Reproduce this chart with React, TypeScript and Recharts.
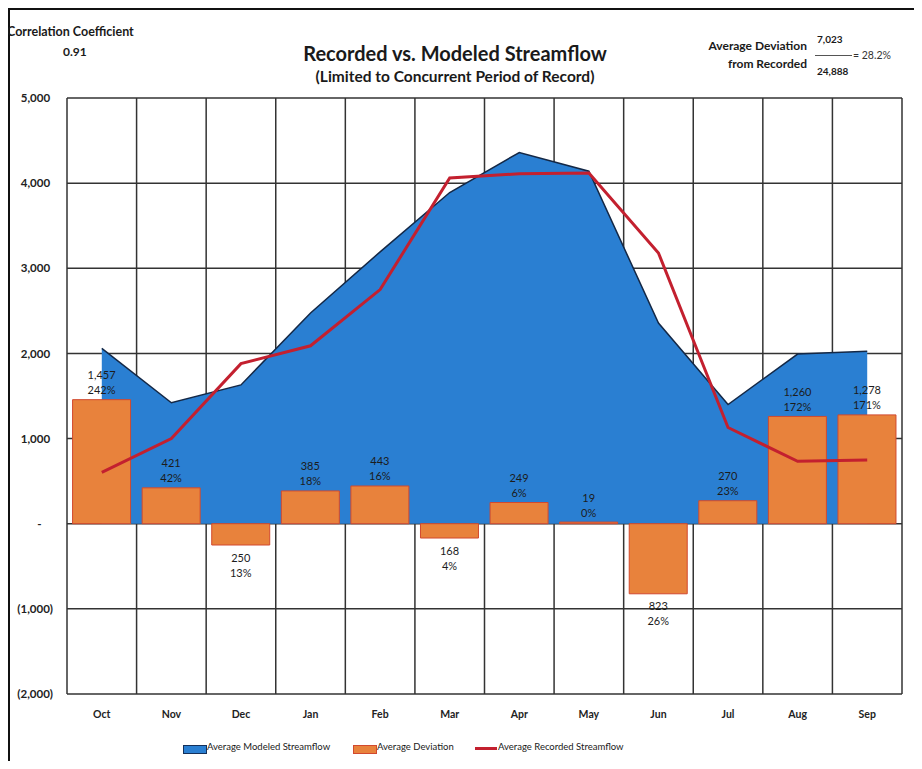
import { ComposedChart, Area, Bar, Line, XAxis, YAxis, CartesianGrid, LabelList } from 'recharts';

const MONTHS = ['Oct', 'Nov', 'Dec', 'Jan', 'Feb', 'Mar', 'Apr', 'May', 'Jun', 'Jul', 'Aug', 'Sep'];
const MODELED = [2059, 1421, 1630, 2475, 3193, 3890, 4360, 4140, 2357, 1400, 1993, 2025];
const RECORDED = [602, 1000, 1880, 2090, 2750, 4060, 4110, 4120, 3180, 1130, 733, 747];
const DEVIATION = [1457, 421, -250, 385, 443, -168, 249, 19, -823, 270, 1260, 1278];
const DEVIATION_PCT = ['242%', '42%', '13%', '18%', '16%', '4%', '6%', '0%', '26%', '23%', '172%', '171%'];
const Y_TICKS = [-2000, -1000, 0, 1000, 2000, 3000, 4000, 5000];

const data = MONTHS.map((m, i) => ({
    month: m,
    modeled: MODELED[i],
    recorded: RECORDED[i],
    deviation: DEVIATION[i],
}));

const FONT = 'Lato, "Open Sans", sans-serif';
const BLUE = '#2a7fd2';
const ORANGE = '#e8823c';
const RED = '#c3202f';

// accounting style: (1,000) for negatives, dash for zero, padded positives
const fmtY = (v: number) => {
    if (v === 0) return '-\u2002\u2002';
    const s = Math.abs(v).toLocaleString('en-US');
    return v < 0 ? `(${s})` : `${s}\u2005`;
};

const DevLabel = (props: any) => {
    const { x, y, width, height, index } = props;
    const v = DEVIATION[index];
    const cx = x + width / 2;
    const top = Math.min(y, y + height);
    const bottom = Math.max(y, y + height);
    const y1 = v >= 0 ? top - 25 : bottom + 12;
    const y2 = v >= 0 ? top - 10 : bottom + 27;
    const style = { fontFamily: FONT, fontSize: 11, fill: '#1c1c1c' };
    return (
        <g>
            <text x={cx} y={y1} textAnchor="middle" dominantBaseline="central" style={style}>
                {Math.abs(v).toLocaleString('en-US')}
            </text>
            <text x={cx} y={y2} textAnchor="middle" dominantBaseline="central" style={style}>
                {DEVIATION_PCT[index]}
            </text>
        </g>
    );
};

const abs = (left: number, top: number, extra: any = {}) => ({
    position: 'absolute' as const,
    left,
    top,
    whiteSpace: 'nowrap' as const,
    ...extra,
});

export default function App() {
    return (
        <div style={{ position: 'relative', width: 906, height: 753, fontFamily: FONT, color: '#1a1a1a' }}>
            {/* page frame */}
            <div style={abs(0, 0, { width: 914, height: 1.5, background: '#111' })} />
            <div style={abs(0, 0, { width: 1.5, height: 761, background: '#111' })} />

            <ComposedChart
                width={906}
                height={753}
                data={data}
                margin={{ top: 90, right: 12, bottom: 37, left: 9 }}
                barCategoryGap="8%"
                style={{ position: 'absolute', left: 0, top: 0 }}
            >
                <CartesianGrid
                    stroke="#333"
                    strokeWidth={1.5}
                    verticalCoordinatesGenerator={({ offset }: any) =>
                        MONTHS.concat(['']).map((_, i) => offset.left + (i * offset.width) / MONTHS.length)
                    }
                />
                <XAxis
                    dataKey="month"
                    axisLine={false}
                    tickLine={false}
                    tickSize={0}
                    tickMargin={17}
                    height={30}
                    tick={{ fontSize: 10.5, fontWeight: 700, fill: '#222', fontFamily: FONT }}
                />
                <YAxis
                    domain={[-2000, 5000]}
                    ticks={Y_TICKS}
                    tickFormatter={fmtY}
                    axisLine={false}
                    tickLine={false}
                    tickSize={0}
                    tickMargin={14}
                    width={50}
                    tick={{ fontSize: 11.5, fontWeight: 700, fill: '#222', fontFamily: FONT }}
                />
                <Area
                    type="linear"
                    dataKey="modeled"
                    fill={BLUE}
                    fillOpacity={1}
                    stroke="#142846"
                    strokeWidth={1.5}
                    baseValue={0}
                    isAnimationActive={false}
                />
                <Bar dataKey="deviation" fill={ORANGE} stroke="#d2492e" strokeWidth={1} isAnimationActive={false}>
                    <LabelList dataKey="deviation" content={DevLabel} />
                </Bar>
                <Line
                    type="linear"
                    dataKey="recorded"
                    stroke={RED}
                    strokeWidth={3}
                    dot={false}
                    activeDot={false}
                    isAnimationActive={false}
                />
            </ComposedChart>

            {/* corner annotations */}
            <div style={abs(-1, 16, { fontSize: 12.5, fontWeight: 700 })}>Correlation Coefficient</div>
            <div style={abs(55, 36, { fontSize: 12, fontWeight: 700 })}>0.91</div>

            <div style={abs(247, 33, { width: 400, textAlign: 'center', fontSize: 20, fontWeight: 700 })}>
                Recorded vs. Modeled Streamflow
            </div>
            <div style={abs(247, 59, { width: 400, textAlign: 'center', fontSize: 15.5, fontWeight: 700 })}>
                (Limited to Concurrent Period of Record)
            </div>

            <div style={abs(600, 30, { width: 199, textAlign: 'right', fontSize: 12, fontWeight: 700 })}>
                Average Deviation
            </div>
            <div style={abs(600, 48, { width: 199, textAlign: 'right', fontSize: 12, fontWeight: 700 })}>
                from Recorded
            </div>
            <div style={abs(809, 25, { fontSize: 10, fontWeight: 700 })}>7,023</div>
            <div style={abs(807, 46.5, { width: 37, height: 1, background: '#555' })} />
            <div style={abs(845, 41, { fontSize: 10.5, color: '#333' })}>= 28.2%</div>
            <div style={abs(809, 57, { fontSize: 10, fontWeight: 700 })}>24,888</div>

            {/* legend */}
            <div style={abs(175, 737, { width: 22, height: 7, background: BLUE, border: '1px solid #14305a' })} />
            <div style={abs(199, 733, { fontSize: 9.5 })}>Average Modeled Streamflow</div>
            <div style={abs(345, 737, { width: 22, height: 7, background: ORANGE, border: '1px solid #d2492e' })} />
            <div style={abs(369, 733, { fontSize: 9.5 })}>Average Deviation</div>
            <div style={abs(467, 739, { width: 22, height: 2.5, background: RED })} />
            <div style={abs(490, 733, { fontSize: 9.5 })}>Average Recorded Streamflow</div>
        </div>
    );
}
